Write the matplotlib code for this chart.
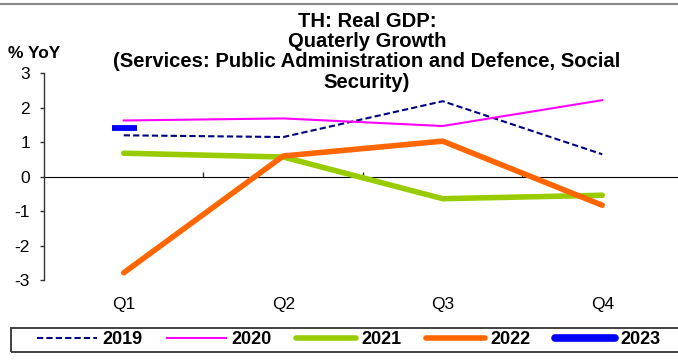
import matplotlib
matplotlib.use("Agg")
import matplotlib.pyplot as plt
from matplotlib.lines import Line2D
from matplotlib.patches import Rectangle

plt.rcParams['font.family'] = ['Liberation Sans', 'DejaVu Sans']

quarters = ["Q1", "Q2", "Q3", "Q4"]
y2019 = [1.20, 1.15, 2.19, 0.65]
y2020 = [1.63, 1.69, 1.47, 2.22]
y2021 = [0.68, 0.57, -0.64, -0.54]
y2022 = [-2.79, 0.60, 1.03, -0.83]
y2023 = [1.41]
yticks = [3, 2, 1, 0, -1, -2, -3]

W, H = 678, 363
fig = plt.figure(figsize=(W / 100, H / 100), dpi=100)
ax = fig.add_axes([44 / W, (H - 280) / H, (682 - 44) / W, (280 - 73.3) / H])

x = list(range(len(quarters)))
styles = {
    "2019": dict(color="#000080", lw=1.5, ls=(0, (3, 1.5))),
    "2020": dict(color="#FF00FF", lw=1.5, ls="-"),
    "2021": dict(color="#99CC00", lw=4.0, ls="-", solid_capstyle="round"),
    "2022": dict(color="#FF6600", lw=4.0, ls="-", solid_capstyle="round"),
    "2023": dict(color="#0000FF", lw=5.5, ls="-", solid_capstyle="round"),
}
ax.plot(x, y2019, **styles["2019"])
ax.plot(x, y2020, **styles["2020"])
ax.plot(x, y2021, **styles["2021"])
ax.plot(x, y2022, **styles["2022"])
ax.plot(x[:len(y2023)], y2023, ls="none", marker="_", ms=18, mew=4.2,
        color=styles["2023"]["color"])

ax.set_xlim(-0.5, 3.5)
ax.set_ylim(-3, 3)

for s in ["top", "right", "bottom"]:
    ax.spines[s].set_visible(False)
ax.spines["left"].set_color("#333333")
ax.spines["left"].set_linewidth(1.0)

ax.set_yticks(yticks)
ax.set_yticklabels([str(v) for v in yticks])
ax.tick_params(axis="y", direction="out", length=3, width=1.0, color="#333333",
               pad=7, labelsize=12.5, labelcolor="black")

ax.set_xticks(x)
ax.set_xticklabels(quarters)
ax.tick_params(axis="x", length=0, pad=12, labelsize=12.5)

sec = ax.secondary_xaxis(0.5)
sec.set_xticks([0.5, 1.5, 2.5])
sec.set_xticklabels([])
sec.tick_params(axis="x", direction="out", length=3.5, width=1.0, color="#333333")
sec.spines["bottom"].set_color("#222222")
sec.spines["bottom"].set_linewidth(1.2)

fig.text(367 / W, 1 - 12 / H,
         "TH: Real GDP:\nQuaterly Growth\n(Services: Public Administration and Defence, Social\nSecurity)",
         ha="center", va="top", fontsize=14.6, fontweight="bold", linespacing=1.08)
fig.text(8 / W, 1 - 53 / H, "% YoY", ha="left", va="center",
         fontsize=12.5, fontweight="bold")

fig.add_artist(Line2D([0, 1], [1 - 4 / H, 1 - 4 / H], transform=fig.transFigure,
                      color="#888888", lw=1.5))
fig.add_artist(Rectangle((11 / W, (H - 352) / H), (700 - 11) / W, 24 / H,
                         transform=fig.transFigure, fill=False,
                         ec="#333333", lw=1.3))

handles = [Line2D([], [], **styles[k]) for k in styles]
leg = fig.legend(handles, list(styles.keys()), loc="center left",
                 bbox_to_anchor=(37 / W, (H - 340) / H), ncol=5, frameon=False,
                 borderpad=0, borderaxespad=0, handlelength=3.3,
                 handletextpad=0.3, columnspacing=1.35,
                 prop=dict(size=13, weight="bold"))

fig.savefig("out.png", dpi=100)
